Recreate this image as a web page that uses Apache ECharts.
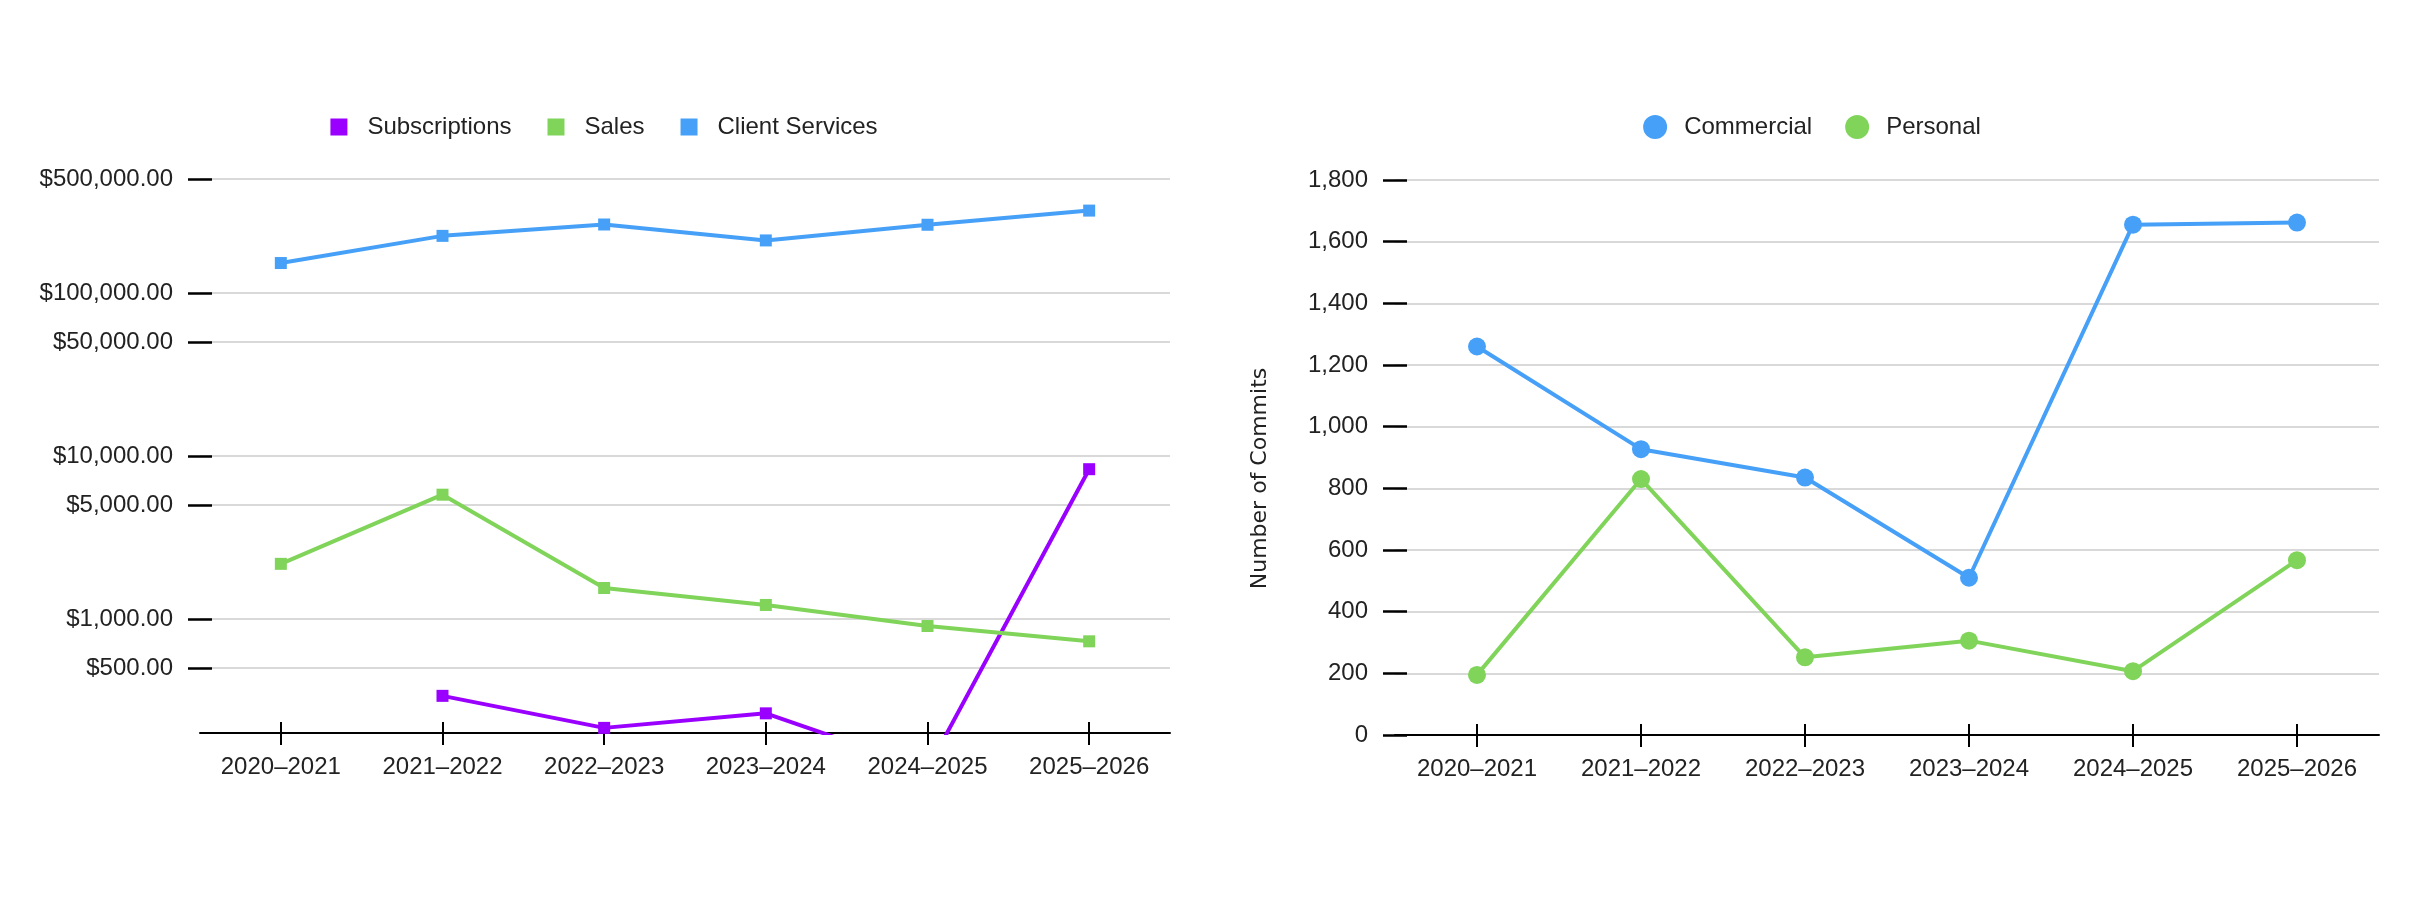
<!DOCTYPE html>
<html lang="en">

<head>
  <meta charset="UTF-8">
  <title>Revenue and commits</title>
  <script src="https://cdn.jsdelivr.net/npm/echarts@6/dist/echarts.min.js"></script>
  <style>
    * {
      margin: 0;
      padding: 0;
    }

    body {
      width: 2416px;
      height: 900px;
      background-color: #fff;
      overflow: hidden;
    }

    .chart01,
    .chart02 {
      float: left;
      width: 1208px;
      height: 900px;
    }
  </style>
</head>

<body>
  <div class="chart01"></div>
  <div class="chart02"></div>

  <script>
    // data
    var years = ['2020–2021', '2021–2022', '2022–2023', '2023–2024', '2024–2025', '2025–2026']

    var subscriptions = [null, 338, 215, 264, 120, 8300]
    var sales = [2180, 5790, 1550, 1220, 906, 730]
    var clientServices = [152600, 224000, 263000, 210000, 262000, 320000]
    var moneyTicks = [500, 1000, 5000, 10000, 50000, 100000, 500000]

    var commercial = [1260, 927, 835, 510, 1655, 1662]
    var personal = [195, 830, 252, 306, 207, 567]

    var purple = '#9900ff'
    var green = '#80d45a'
    var blue = '#46a0f7'
    var font = "'Liberation Sans', Arial, sans-serif"

    // ticks cross the axis line: one axis draws them outward, the other inward
    function xAxes() {
      return [{
        type: 'category',
        data: years,
        position: 'bottom',
        axisLine: { lineStyle: { color: '#000', width: 2 } },
        axisTick: { show: true, interval: 0, alignWithLabel: true, length: 12, lineStyle: { color: '#000', width: 2 } },
        axisLabel: { interval: 0, color: '#222', fontSize: 24, fontFamily: font, margin: 22 }
      }, {
        type: 'category',
        data: years,
        position: 'bottom',
        axisLine: { show: false },
        axisTick: { show: true, interval: 0, inside: true, alignWithLabel: true, length: 11, lineStyle: { color: '#000', width: 2 } },
        axisLabel: { show: false }
      }]
    }

    // first y axis holds the grid lines, second one the ticks and labels on top
    function yAxes(base, formatter, extra) {
      var gridAxis = Object.assign({}, base, {
        position: 'left',
        axisLine: { show: false },
        axisTick: { show: false, customValues: base.ticks },
        axisLabel: { show: false },
        splitLine: { lineStyle: { color: '#cccccc', width: 1.6 } }
      }, extra || {})
      var tickAxis = Object.assign({}, base, {
        position: 'left',
        offset: -12,
        z: 3,
        axisLine: { show: false },
        axisTick: { show: true, length: 24, customValues: base.ticks, lineStyle: { color: '#000', width: 2.5 } },
        axisLabel: { color: '#222', fontSize: 24, fontFamily: font, margin: 39, formatter: formatter, customValues: base.ticks },
        splitLine: { show: false }
      })
      delete gridAxis.ticks
      delete tickAxis.ticks
      return [gridAxis, tickAxis]
    }

    function line(name, data, color, symbol, size) {
      return {
        name: name,
        type: 'line',
        data: data,
        xAxisIndex: 0,
        yAxisIndex: 0,
        symbol: symbol,
        symbolSize: size,
        itemStyle: { color: color },
        lineStyle: { color: color, width: 4 }
      }
    }

    var myChart = echarts.init(document.querySelector('.chart01'))
    var myChart2 = echarts.init(document.querySelector('.chart02'))

    var option = {
      animation: false,
      legend: {
        top: 115,
        left: 'center',
        padding: 0,
        icon: 'rect',
        itemWidth: 17,
        itemHeight: 17,
        itemGap: 36,
        textStyle: { color: '#222', fontSize: 24, fontFamily: font, padding: [0, 0, 0, 15] },
        data: ['Subscriptions', 'Sales', 'Client Services']
      },
      grid: { left: 200, right: 38, top: 179, bottom: 167 },
      xAxis: xAxes(),
      yAxis: yAxes({ type: 'log', logBase: 10, min: 200, max: 500000, ticks: moneyTicks }, function (v) {
        return '$' + v.toLocaleString('en-US', { minimumFractionDigits: 2, maximumFractionDigits: 2 })
      }),
      series: [
        line('Subscriptions', subscriptions, purple, 'rect', 12),
        line('Sales', sales, green, 'rect', 12),
        line('Client Services', clientServices, blue, 'rect', 12)
      ]
    }

    var option2 = {
      animation: false,
      legend: {
        top: 115,
        left: 'center',
        padding: 0,
        icon: 'circle',
        itemWidth: 24,
        itemHeight: 24,
        itemGap: 33,
        textStyle: { color: '#222', fontSize: 24, fontFamily: font, padding: [0, 0, 0, 12] },
        data: ['Commercial', 'Personal']
      },
      grid: { left: 187, right: 37, top: 180, bottom: 165 },
      xAxis: xAxes(),
      yAxis: yAxes({ type: 'value', min: 0, max: 1800, interval: 200 }, function (v) {
        return v.toLocaleString('en-US')
      }, {
        name: 'Number of Commits',
        nameLocation: 'middle',
        nameRotate: 90,
        nameGap: 124,
        nameTextStyle: { color: '#222', fontSize: 22, fontFamily: "'DejaVu Sans', sans-serif", padding: [0, 42, 0, 0] }
      }),
      series: [
        line('Commercial', commercial, blue, 'circle', 18),
        line('Personal', personal, green, 'circle', 18)
      ]
    }

    myChart.setOption(option)
    myChart2.setOption(option2)
  </script>
</body>

</html>
